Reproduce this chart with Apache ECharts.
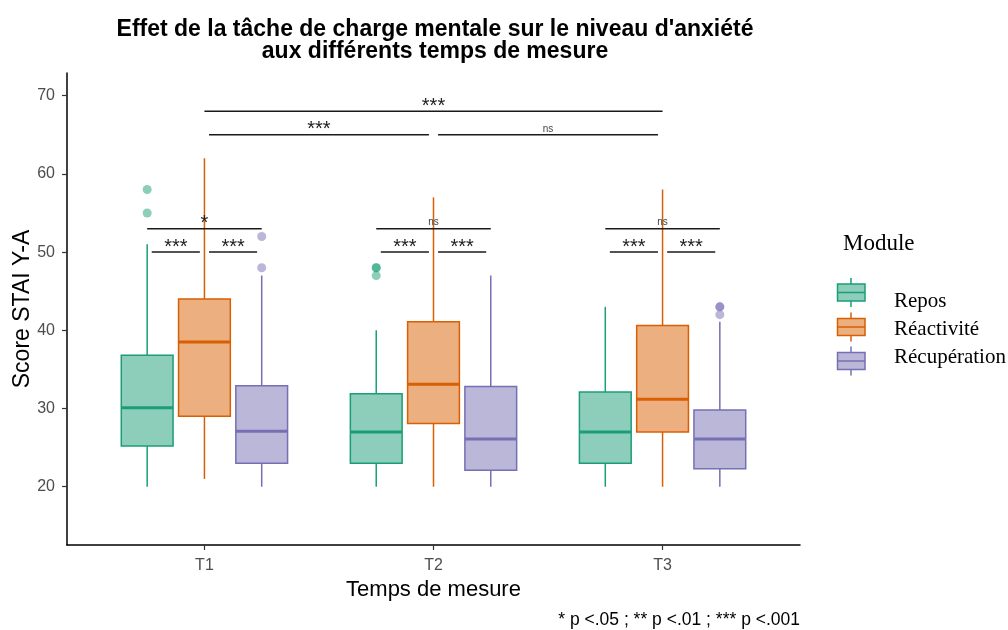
<!DOCTYPE html>
<html>
<head>
<meta charset="utf-8">
<script src="https://cdn.jsdelivr.net/npm/echarts@6/dist/echarts.min.js"></script>
<style>
  html, body { margin: 0; padding: 0; background: #fff; }
  #chart { width: 1008px; height: 630px; }
</style>
</head>
<body>
<div id="chart"></div>
<script>
// categories
const times = ['T1', 'T2', 'T3'];
const modules = ['Repos', 'Réactivité', 'Récupération'];
const yTicks = [20, 30, 40, 50, 60, 70];

// [min, Q1, médiane, Q3, max] per time
const reposBox = [[20, 25.2, 30.1, 36.8, 51], [20, 23, 27, 31.9, 40], [20, 23, 27, 32.1, 43]];
const reactBox = [[21, 29, 38.5, 44, 62], [20, 28.1, 33.1, 41.1, 57], [20, 27, 31.2, 40.6, 58]];
const recupBox = [[20, 23, 27.1, 32.9, 47], [20, 22.1, 26.1, 32.8, 47], [20, 22.3, 26.1, 29.8, 41.1]];

// outliers: [time index, value]
const reposOut = [[0, 58], [0, 55], [1, 48], [1, 48], [1, 47]];
const reactOut = [];
const recupOut = [[0, 52], [0, 48], [2, 43], [2, 43], [2, 42]];

// comparisons within a time: [time, module a, module b, y, label]
const withinPairs = [
  [0, 0, 1, 50, '***'], [0, 1, 2, 50, '***'], [0, 0, 2, 53, '*'],
  [1, 0, 1, 50, '***'], [1, 1, 2, 50, '***'], [1, 0, 2, 53, 'ns'],
  [2, 0, 1, 50, '***'], [2, 1, 2, 50, '***'], [2, 0, 2, 53, 'ns']
];
// comparisons between times: [time a, time b, y, label]
const betweenPairs = [[0, 2, 68, '***'], [0, 1, 65, '***'], [1, 2, 65, 'ns']];

const colors = ['#1B9E77', '#D95F02', '#7570B3'];
const fills = ['rgba(27,158,119,0.5)', 'rgba(217,95,2,0.5)', 'rgba(117,112,179,0.5)'];
const dodge = [-0.25, 0, 0.25];
const halfW = 0.113;
const sans = "'Liberation Sans', Arial, sans-serif";
const serif = "'Liberation Serif', 'Times New Roman', serif";

const chart = echarts.init(document.getElementById('chart'), null, { renderer: 'canvas' });

function boxSeries(name, boxes, idx) {
  return {
    name: name,
    type: 'custom',
    data: boxes.map((b, i) => [i].concat(b)),
    encode: { x: 0, y: [1, 2, 3, 4, 5] },
    z: 2,
    renderItem: function (params, api) {
      const xc = api.value(0) + 1 + dodge[idx];
      const lo = api.coord([xc, api.value(1)]);
      const q1 = api.coord([xc, api.value(2)]);
      const md = api.coord([xc, api.value(3)]);
      const q3 = api.coord([xc, api.value(4)]);
      const hi = api.coord([xc, api.value(5)]);
      const left = api.coord([xc - halfW, 0])[0];
      const right = api.coord([xc + halfW, 0])[0];
      const ls = { stroke: colors[idx], lineWidth: 1.5 };
      return {
        type: 'group',
        children: [
          { type: 'line', shape: { x1: hi[0], y1: hi[1], x2: q3[0], y2: q3[1] }, style: ls },
          { type: 'line', shape: { x1: q1[0], y1: q1[1], x2: lo[0], y2: lo[1] }, style: ls },
          { type: 'rect', shape: { x: left, y: q3[1], width: right - left, height: q1[1] - q3[1] },
            style: { fill: fills[idx], stroke: colors[idx], lineWidth: 1.5 } },
          { type: 'line', shape: { x1: left, y1: md[1], x2: right, y2: md[1] },
            style: { stroke: colors[idx], lineWidth: 3 } }
        ]
      };
    }
  };
}

function outSeries(name, pts, idx) {
  return {
    name: name,
    type: 'scatter',
    data: pts.map(p => [p[0] + 1 + dodge[idx], p[1]]),
    symbolSize: 9,
    z: 3,
    itemStyle: { color: colors[idx], opacity: 0.5 }
  };
}

// brackets: [x start, x end, y, label]
const brackets = [];
withinPairs.forEach(p => {
  const sh = (p[2] - p[1] === 1) ? 0.02 : 0;
  brackets.push([p[0] + 1 + dodge[p[1]] + sh, p[0] + 1 + dodge[p[2]] - sh, p[3], p[4]]);
});
betweenPairs.forEach(p => {
  const sh = (p[1] - p[0] === 1) ? 0.02 : 0;
  brackets.push([p[0] + 1 + sh, p[1] + 1 - sh, p[2], p[3]]);
});

const bracketSeries = {
  type: 'custom',
  data: brackets,
  encode: { x: [0, 1], y: 2 },
  z: 5,
  renderItem: function (params, api) {
    const a = api.coord([api.value(0), api.value(2)]);
    const b = api.coord([api.value(1), api.value(2)]);
    const lab = brackets[params.dataIndex][3];
    const isNs = lab === 'ns';
    return {
      type: 'group',
      children: [
        { type: 'line', shape: { x1: a[0], y1: a[1], x2: b[0], y2: b[1] },
          style: { stroke: '#1a1a1a', lineWidth: 1.5 } },
        { type: 'text', x: (a[0] + b[0]) / 2, y: a[1] - (isNs ? 6 : 5),
          style: { text: lab, fill: isNs ? '#444' : '#222', fontFamily: sans,
                   fontSize: isNs ? 10 : 20, align: 'center', verticalAlign: 'middle' } }
      ]
    };
  }
};

// legend drawn as graphic (boxplot key glyphs)
const legendGraphic = [
  { type: 'text', x: 843, y: 244,
    style: { text: 'Module', fontFamily: serif, fontSize: 23, fill: '#000', verticalAlign: 'middle' } }
];
const keyY = [292.5, 327, 361];
const labelY = [301.5, 329, 357];
modules.forEach((m, i) => {
  const cy = keyY[i];
  legendGraphic.push(
    { type: 'line', shape: { x1: 851, y1: cy - 14.5, x2: 851, y2: cy + 14.5 },
      style: { stroke: colors[i], lineWidth: 1.5 } },
    { type: 'rect', shape: { x: 837.5, y: cy - 8.5, width: 27.5, height: 17 },
      style: { fill: '#fff', stroke: null } },
    { type: 'rect', shape: { x: 837.5, y: cy - 8.5, width: 27.5, height: 17 },
      style: { fill: fills[i], stroke: colors[i], lineWidth: 1.5 } },
    { type: 'line', shape: { x1: 837.5, y1: cy, x2: 865, y2: cy },
      style: { stroke: colors[i], lineWidth: 1.5 } },
    { type: 'text', x: 894, y: labelY[i],
      style: { text: m, fontFamily: serif, fontSize: 21, fill: '#000', verticalAlign: 'middle' } }
  );
});
legendGraphic.push({
  type: 'text', x: 800, y: 620,
  style: { text: '* p <.05 ; ** p <.01 ; *** p <.001', fontFamily: sans, fontSize: 17.5,
           fill: '#000', align: 'right', verticalAlign: 'middle' }
});

const option = {
  animation: false,
  backgroundColor: '#fff',
  title: {
    text: "Effet de la tâche de charge mentale sur le niveau d'anxiété\naux différents temps de mesure",
    left: 430,
    top: 14,
    textAlign: 'center',
    textStyle: { fontFamily: sans, fontSize: 23, fontWeight: 'bold', color: '#000', lineHeight: 22 }
  },
  grid: { left: 67, top: 73, width: 733, height: 472, containLabel: false, outerBoundsMode: 'none' },
  xAxis: {
    type: 'value',
    min: 0.4,
    max: 3.6,
    name: 'Temps de mesure',
    nameLocation: 'middle',
    nameGap: 34,
    nameMoveOverlap: false,
    nameTextStyle: { fontFamily: sans, fontSize: 22, color: '#000' },
    axisLine: { onZero: false, lineStyle: { color: '#000', width: 1.5 } },
    axisTick: { customValues: [1, 2, 3], length: 5, lineStyle: { color: '#333', width: 1.2 } },
    axisLabel: { customValues: [1, 2, 3], formatter: v => times[Math.round(v) - 1],
                 fontFamily: sans, fontSize: 16, color: '#4d4d4d', margin: 13 },
    splitLine: { show: false }
  },
  yAxis: {
    type: 'value',
    min: 12.55,
    max: 72.9,
    name: 'Score STAI Y-A',
    nameLocation: 'middle',
    nameGap: 33,
    nameMoveOverlap: false,
    nameTextStyle: { fontFamily: sans, fontSize: 23, color: '#000' },
    axisLine: { show: true, onZero: false, lineStyle: { color: '#000', width: 1.5 } },
    axisTick: { show: true, customValues: yTicks, length: 5, lineStyle: { color: '#333', width: 1.2 } },
    axisLabel: { customValues: yTicks, fontFamily: sans, fontSize: 16, color: '#4d4d4d', margin: 12 },
    splitLine: { show: false }
  },
  graphic: legendGraphic,
  series: [
    boxSeries(modules[0], reposBox, 0),
    boxSeries(modules[1], reactBox, 1),
    boxSeries(modules[2], recupBox, 2),
    outSeries(modules[0], reposOut, 0),
    outSeries(modules[1], reactOut, 1),
    outSeries(modules[2], recupOut, 2),
    bracketSeries
  ]
};

chart.setOption(option);
</script>
</body>
</html>
